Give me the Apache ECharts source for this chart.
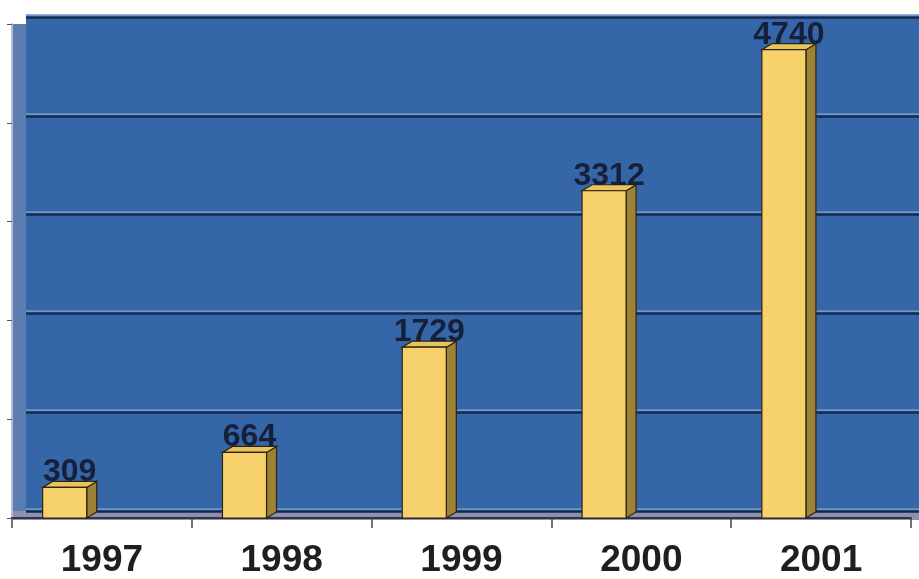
<!DOCTYPE html>
<html>
<head>
<meta charset="utf-8">
<script src="https://cdn.jsdelivr.net/npm/echarts@6/dist/echarts.min.js"></script>
<style>
    html, body { margin: 0; padding: 0; background: #ffffff; }
    #chart { width: 919px; height: 579px; }
</style>
</head>
<body>
<div id="chart"></div>
<script>
const years = ['1997', '1998', '1999', '2000', '2001']
const counts = [309, 664, 1729, 3312, 4740]
const axisMax = 5000
const axisStep = 1000

const myChart = echarts.init(document.getElementById('chart'))

// 3d-ish box: front face, right side, top face + value on top
function renderBox(params, api) {
    const idx = api.value(0)
    const val = api.value(1)
    const base = api.coord([idx, 0])
    const top = api.coord([idx, val])
    const band = api.size([1, 0])[0]
    const w = band * 0.245
    const x0 = base[0] - band * 0.207 - w / 2
    const d = 10
    const dy = 6
    const edge = { stroke: '#2e230c', lineWidth: 1.2 }
    return {
        type: 'group',
        children: [
            {
                type: 'polygon',
                shape: { points: [[x0 + w, top[1]], [x0 + w + d, top[1] - dy], [x0 + w + d, base[1] - dy], [x0 + w, base[1]]] },
                style: Object.assign({ fill: '#9c8236' }, edge)
            },
            {
                type: 'polygon',
                shape: { points: [[x0, top[1]], [x0 + d, top[1] - dy], [x0 + w + d, top[1] - dy], [x0 + w, top[1]]] },
                style: Object.assign({ fill: '#e9c45e' }, edge)
            },
            {
                type: 'rect',
                shape: { x: x0, y: top[1], width: w, height: base[1] - top[1] },
                style: Object.assign({ fill: '#f7d26c' }, edge)
            },
            {
                type: 'text',
                x: x0 + (w + d) / 2,
                y: top[1] + 1,
                style: {
                    text: String(val),
                    fill: '#16203a',
                    font: 'bold 32px "Liberation Sans", Arial, sans-serif',
                    align: 'center',
                    verticalAlign: 'bottom'
                }
            }
        ]
    }
}

const option = {
    animation: false,
    grid: [
        // bars + left side wall
        { left: 12, right: 8, top: 24, bottom: 59, show: true, backgroundColor: '#5b7db1', borderWidth: 0, z: 0 },
        // back wall
        { left: 26, right: 0, top: 17, bottom: 68, show: true, backgroundColor: '#3566a8', borderWidth: 0, z: 1 },
        // floor
        { left: 12, right: 0, top: 511, bottom: 59, show: true, backgroundColor: '#8c90b2', borderWidth: 0, z: 1 }
    ],
    xAxis: [
        {
            gridIndex: 0,
            type: 'category',
            data: years,
            z: 3,
            axisLine: { lineStyle: { color: '#3a3040', width: 2 } },
            axisTick: { show: true, length: 10, lineStyle: { color: '#444444', width: 1.5 } },
            axisLabel: {
                margin: 24,
                color: '#1f1f1f',
                fontSize: 37,
                fontWeight: 'bold',
                fontFamily: '"Liberation Sans", Arial, sans-serif'
            }
        },
        { gridIndex: 1, type: 'category', data: years, show: false },
        { gridIndex: 2, type: 'category', data: years, show: false }
    ],
    yAxis: [
        {
            gridIndex: 0,
            type: 'value',
            min: 0,
            max: axisMax,
            interval: axisStep,
            z: 3,
            splitLine: { show: false },
            axisLabel: { show: false },
            axisLine: { show: true, lineStyle: { color: '#b4bdcc', width: 2 } },
            axisTick: { show: true, length: 5, lineStyle: { color: '#555555' } }
        },
        {
            gridIndex: 1,
            type: 'value',
            min: 0,
            max: axisMax,
            interval: axisStep,
            z: 2,
            axisLabel: { show: false },
            axisLine: { show: false },
            axisTick: { show: false },
            splitLine: {
                show: true,
                lineStyle: { color: '#132a50', width: 2.5, shadowColor: '#6f96c9', shadowOffsetY: -2, shadowBlur: 0 }
            }
        },
        { gridIndex: 2, type: 'value', show: false }
    ],
    series: [
        {
            type: 'custom',
            xAxisIndex: 0,
            yAxisIndex: 0,
            z: 5,
            renderItem: renderBox,
            data: counts.map((v, i) => [i, v])
        }
    ]
}

myChart.setOption(option)
</script>
</body>
</html>
